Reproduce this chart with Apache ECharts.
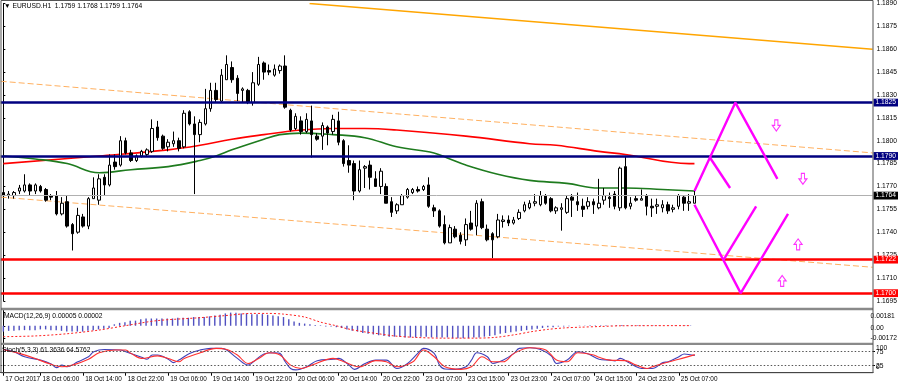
<!DOCTYPE html>
<html><head><meta charset="utf-8">
<script src="https://cdn.jsdelivr.net/npm/echarts@6.0.0/dist/echarts.min.js"></script>
<style>html,body{margin:0;padding:0;background:#fff}#c{width:900px;height:387px}</style>
</head><body><div id="c"></div>
<script>
// ---- price candles (EURUSD H1), bar 0 = 17 Oct 23:00 ----
const openP = [1.1766,1.1764,1.1764,1.1767,1.1767,1.1771,1.1767,1.1770,1.1768,1.1764,
1.1764,1.1752,1.1760,1.1745,1.1740,1.1750,1.1744,1.1762,1.1761,1.1776,
1.1771,1.1786,1.1784,1.1800,1.1792,1.1787,1.1790,1.1791,1.1793,1.1809,
1.1803,1.1796,1.1798,1.1800,1.1796,1.1819,1.1811,1.1804,1.1811,1.1821,
1.1833,1.1826,1.1840,1.1848,1.1841,1.1833,1.1833,1.1825,1.1837,1.1851,
1.1846,1.1843,1.1846,1.1849,1.1820,1.1808,1.1813,1.1806,1.1813,1.1803,
1.1803,1.1809,1.1806,1.1813,1.1800,1.1787,1.1785,1.1767,1.1782,1.1784,
1.1775,1.1770,1.1770,1.1760,1.1754,1.1758,1.1763,1.1766,1.1768,1.1768,
1.1771,1.1756,1.1754,1.1745,1.1733,1.1742,1.1738,1.1735,1.1746,1.1744,
1.1760,1.1742,1.1739,1.1737,1.1747,1.1748,1.1746,1.1749,1.1754,1.1756,
1.1759,1.1758,1.1764,1.1762,1.1754,1.1755,1.1753,1.1763,1.1760,1.1757,
1.1757,1.1760,1.1756,1.1761,1.1763,1.1765,1.1756,1.1783,1.1757,1.1762,
1.1761,1.1764,1.1757,1.1757,1.1756,1.1758,1.1755,1.1757,1.1763,1.1759,
1.1759];
const highP = [1.1767,1.1767,1.1767,1.1771,1.1778,1.1772,1.1772,1.1771,1.1769,1.1765,
1.1767,1.1763,1.1764,1.1746,1.1756,1.1752,1.1763,1.1776,1.1778,1.1778,
1.1791,1.1791,1.1803,1.1802,1.1794,1.1791,1.1794,1.1795,1.1814,1.1813,
1.1804,1.1801,1.1806,1.1802,1.1820,1.1820,1.1816,1.1814,1.1834,1.1838,
1.1838,1.1847,1.1856,1.1852,1.1843,1.1835,1.1834,1.1845,1.1855,1.1852,
1.1850,1.1850,1.1850,1.1856,1.1821,1.1818,1.1816,1.1818,1.1823,1.1805,
1.1812,1.1810,1.1817,1.1819,1.1801,1.1797,1.1787,1.1787,1.1784,1.1787,
1.1780,1.1782,1.1772,1.1763,1.1759,1.1765,1.1769,1.1769,1.1770,1.1771,
1.1776,1.1758,1.1755,1.1751,1.1745,1.1744,1.1740,1.1749,1.1754,1.1761,
1.1762,1.1745,1.1740,1.1752,1.1751,1.1751,1.1750,1.1755,1.1760,1.1761,
1.1765,1.1767,1.1765,1.1763,1.1757,1.1759,1.1764,1.1765,1.1766,1.1762,
1.1763,1.1762,1.1775,1.1769,1.1766,1.1767,1.1783,1.1790,1.1763,1.1764,
1.1768,1.1765,1.1762,1.1762,1.1761,1.1760,1.1758,1.1765,1.1764,1.1765,
1.1768];
const lowP = [1.1763,1.1762,1.1762,1.1765,1.1766,1.1764,1.1765,1.1766,1.1760,1.1761,
1.1751,1.1751,1.1743,1.1728,1.1739,1.1743,1.1742,1.1762,1.1758,1.1764,
1.1770,1.1781,1.1783,1.1791,1.1786,1.1786,1.1789,1.1790,1.1792,1.1800,
1.1794,1.1793,1.1796,1.1793,1.1795,1.1810,1.1765,1.1799,1.1810,1.1819,
1.1825,1.1825,1.1840,1.1838,1.1826,1.1825,1.1824,1.1823,1.1836,1.1840,
1.1843,1.1842,1.1844,1.1821,1.1806,1.1807,1.1804,1.1805,1.1789,1.1800,
1.1794,1.1797,1.1804,1.1797,1.1783,1.1779,1.1761,1.1766,1.1769,1.1768,
1.1770,1.1765,1.1759,1.1750,1.1752,1.1758,1.1762,1.1765,1.1766,1.1767,
1.1756,1.1750,1.1743,1.1732,1.1733,1.1736,1.1732,1.1731,1.1741,1.1738,
1.1742,1.1734,1.1723,1.1736,1.1743,1.1744,1.1745,1.1748,1.1753,1.1755,
1.1757,1.1757,1.1758,1.1753,1.1752,1.1741,1.1752,1.1750,1.1754,1.1750,
1.1755,1.1752,1.1755,1.1758,1.1756,1.1755,1.1754,1.1755,1.1755,1.1760,
1.1761,1.1751,1.1750,1.1752,1.1753,1.1752,1.1753,1.1755,1.1754,1.1754,
1.1759];
const closeP = [1.1764,1.1765,1.1766,1.1769,1.1771,1.1767,1.1771,1.1767,1.1761,1.1763,
1.1752,1.1759,1.1744,1.1739,1.1751,1.1744,1.1762,1.1769,1.1775,1.1771,
1.1784,1.1783,1.1800,1.1792,1.1787,1.1790,1.1793,1.1794,1.1808,1.1802,
1.1795,1.1799,1.1800,1.1795,1.1818,1.1811,1.1804,1.1812,1.1821,1.1833,
1.1827,1.1843,1.1850,1.1840,1.1831,1.1834,1.1825,1.1838,1.1850,1.1845,
1.1845,1.1847,1.1849,1.1822,1.1807,1.1816,1.1806,1.1814,1.1804,1.1801,
1.1810,1.1805,1.1814,1.1799,1.1785,1.1784,1.1767,1.1781,1.1783,1.1776,
1.1770,1.1780,1.1759,1.1753,1.1758,1.1764,1.1768,1.1768,1.1767,1.1770,
1.1757,1.1754,1.1744,1.1733,1.1743,1.1737,1.1734,1.1745,1.1742,1.1759,
1.1743,1.1735,1.1735,1.1748,1.1748,1.1746,1.1748,1.1753,1.1758,1.1759,
1.1760,1.1764,1.1759,1.1754,1.1756,1.1756,1.1762,1.1761,1.1758,1.1755,
1.1760,1.1758,1.1759,1.1764,1.1762,1.1757,1.1782,1.1756,1.1759,1.1761,
1.1762,1.1757,1.1756,1.1758,1.1758,1.1754,1.1756,1.1764,1.1759,1.1760,
1.1764];

// ---- time axis labels ----
const tickBars = [0,7,15,23,31,39,47,55,63,71,79,87,95,103,111,119,127];
const tickLabels = ['17 Oct 2017','18 Oct 06:00','18 Oct 14:00','18 Oct 22:00','19 Oct 06:00',
'19 Oct 14:00','19 Oct 22:00','20 Oct 06:00','20 Oct 14:00','20 Oct 22:00','23 Oct 07:00',
'23 Oct 15:00','23 Oct 23:00','24 Oct 07:00','24 Oct 15:00','24 Oct 23:00','25 Oct 07:00'];

// ---- moving averages (read at selected bars) ----
const maRedBars = [0,18,31,37,43,49,56,62,68,74,87,99,104,112,117,129,130];
const maRedVals = [1.1785,1.1790,1.1794,1.1797,1.1801,1.1804,1.1807,1.1808,1.1808,1.1807,1.1803,1.1798,1.1797,1.1793,1.1791,1.1785,1.1785];
const maGreenBars = [0,6,12,18,24,31,37,40,43,49,52,56,62,68,74,81,84,87,93,99,106,112,117,124,130];
const maGreenVals = [1.1790,1.1788,1.1785,1.1779,1.1781,1.1783,1.1787,1.1790,1.1794,1.1801,1.1804,1.1805,1.1804,1.1802,1.1796,1.1792,1.1788,1.1784,1.1778,1.1774,1.1772,1.1769,1.1769,1.1768,1.1767];

// ---- horizontal levels ----
const levelValues = [1.1825, 1.1790, 1.1722, 1.1700];
const bidPrice = 1.1764;

// ---- fibo channel lines (bar, price) ----
const fibSolidBars = [57.6, 163.5];   const fibSolidVals = [1.1890, 1.1860];
const fibUpperBars = [-0.5, 163.5];   const fibUpperVals = [1.1839, 1.1792];
const fibLowerBars = [-0.5, 163.5];   const fibLowerVals = [1.1763, 1.1717];

// ---- projected zigzags (bar, price) ----
const zigUpBars = [130, 137.7, 145.6];      const zigUpVals = [1.1767, 1.1825, 1.1775];
const zigUpBrBars = [132.9, 136.7];         const zigUpBrVals = [1.1789, 1.1769];
const zigDnBars = [130, 138.7, 147.6];      const zigDnVals = [1.1758, 1.1700, 1.1752];
const zigDnBrBars = [135.5, 141.6];         const zigDnBrVals = [1.1722, 1.1757];
const arrowDownBars = [145.4, 150.4];       const arrowDownVals = [1.1810, 1.1775];
const arrowUpBars = [149.5, 146.5];         const arrowUpVals = [1.1732, 1.1708];

// ---- MACD(12,26,9) ----
const macdHist = [-0.0008,-0.0007,-0.0007,-0.0006,-0.0006,-0.0006,-0.0006,-0.0005,-0.0005,-0.0006,
-0.0006,-0.0007,-0.0008,-0.0008,-0.0008,-0.0008,-0.0007,-0.0006,-0.0005,-0.0004,
-0.0003,0.0002,0.0004,0.0005,0.0007,0.0007,0.0009,0.0010,0.0010,0.0010,
0.0010,0.0010,0.0010,0.0011,0.0011,0.0011,0.0012,0.0012,0.0012,0.0013,
0.0014,0.0015,0.0017,0.00181,0.0018,0.0017,0.0017,0.0016,0.0016,0.0016,
0.0015,0.0014,0.0013,0.0012,0.0009,0.0006,0.0004,0.0003,0.0002,0.0001,
0.00007,-0.0001,-0.0001,-0.0002,-0.0003,-0.0005,-0.0007,-0.0008,-0.0010,-0.0011,
-0.0012,-0.0013,-0.0014,-0.0015,-0.0015,-0.0015,-0.0016,-0.0016,-0.0016,-0.0015,
-0.0015,-0.0016,-0.0016,-0.0016,-0.0016,-0.00172,-0.0017,-0.0017,-0.0017,-0.0016,
-0.0016,-0.0015,-0.0014,-0.0013,-0.0011,-0.0010,-0.0009,-0.0008,-0.0007,-0.0006,
-0.0005,-0.0004,-0.0003,-0.0002,-0.0002,-0.0001,-0.0001,-0.00005,0.00002,0.00004,
0.00005,0.00006,0.00006,0.00007,0.00006,0.00005,0.00008,0.00009,0.00008,0.00007,
0.00007,0.00006,0.00005,0.00004,0.00003,0.00002,0.00001,0.00002,0.00003,0.00004,
0.00005];
const macdSigBars = [0,6,12,18,23,29,37,42,47,50,53,57,60,63,65,68,71,74,78,83,89,93,97,100,103,106,109,113,117,130];
const macdSigVals = [-0.0015,-0.0014,-0.0011,-0.0006,0.0000,0.0007,0.0011,0.0014,0.0017,0.0017,0.0016,0.0012,0.0005,0.0000,-0.0004,-0.0008,-0.0011,-0.0014,-0.0016,-0.0017,-0.0017,-0.0016,-0.0012,-0.0008,-0.0005,-0.0003,-0.0002,-0.0001,0.0000,0.00002];
const macdLabelVals = [0.00181, 0, -0.00172];

// ---- Stochastic(5,3,3) ----
const stMainBars = [0,2,4,7,9,10,11,12,14,16,17,19,22,23,26,27,28,29,31,32,33,35,37,39,41,42,44,46,47,49,51,52,53,54,55,57,59,62,63,65,66,68,70,72,74,76,78,79,81,82,83,85,87,88,89,91,92,94,96,97,99,101,103,104,106,108,110,112,114,115,116,117,119,120,122,124,125,127,128,130];
const stMainVals = [83,75,57,45,31,18,27,21,39,57,75,83,81,75,55,48,63,63,48,36,45,69,81,87,87,81,51,27,39,67,71,69,39,15,10,21,43,48,51,27,12,33,45,45,15,33,71,87,69,27,13,12,21,45,71,57,33,45,69,87,89,83,60,33,45,75,67,48,45,42,51,43,21,15,15,36,39,57,67,61.36];
const stSigBars = [0,3,6,8,11,13,16,18,21,23,24,26,29,31,33,34,37,40,42,44,46,48,50,52,54,56,58,62,64,67,70,72,74,77,79,81,83,86,88,90,92,94,96,99,102,104,106,108,111,112,114,117,119,121,122,124,127,130];
const stSigVals = [83,69,51,36,21,27,48,71,81,81,69,51,60,51,39,51,71,87,83,63,33,51,71,63,27,15,27,51,39,21,43,39,21,39,81,57,21,12,21,57,39,39,69,89,81,45,39,71,63,55,45,43,27,15,21,33,48,64.58];
const stLevels = [75, 25];
const stEdgeLabelVals = [100, 0];

// ================= build =================
const SLOTS = 164;
const categories = Array.from({length: SLOTS}, (_, i) => {
  const k = tickBars.indexOf(i); return k >= 0 ? tickLabels[k] : '';
});
const pairs = (xs, ys) => xs.map((x, i) => [x, ys[i]]);
const FONT = 'Liberation Sans';
const FS = 6.7;
const txt = {fontFamily: FONT, color: '#000'};
const L = 0.7, R = 27;

const chart = echarts.init(document.getElementById('c'), null, {renderer: 'canvas'});

const levelColors = ['#000080', '#000080', '#ff0000', '#ff0000'];
const boxLabel = (bg) => ({show: true, position: 'end', distance: 1, formatter: p => Number(p.value).toFixed(4),
  color: '#fff', backgroundColor: bg, padding: [1, 2, 0, 2], fontSize: FS, lineHeight: 6.8, fontFamily: FONT});

const markLevels = levelValues.map((v, i) => ({yAxis: v,
  lineStyle: {color: levelColors[i], width: 2.6, type: 'solid'}, label: boxLabel(levelColors[i])}));
markLevels.unshift({yAxis: bidPrice, lineStyle: {color: '#b0b0b0', width: 1, type: 'solid'}, label: boxLabel('#000')});

const valX = (grid) => ({type: 'value', gridIndex: grid, min: -0.5, max: SLOTS - 0.5, show: false});
const catX = (grid, showLab) => ({type: 'category', gridIndex: grid, data: categories, boundaryGap: true,
  show: showLab, axisLine: {show: showLab, lineStyle: {color: '#000', width: 1}},
  axisTick: {show: showLab, alignWithLabel: true, length: 3, interval: (idx, v) => v !== '', lineStyle: {color: '#000'}},
  axisLabel: {show: showLab, interval: (idx, v) => v !== '', align: 'left', margin: 4, fontSize: 6.4, padding: [0, 0, 0, 2], hideOverlap: false, ...txt},
  splitLine: {show: false}});

const lineS = (xi, yi, xs, ys, color, width, type, extra) => Object.assign({
  type: 'line', xAxisIndex: xi, yAxisIndex: yi, data: pairs(xs, ys), symbol: 'none', silent: true,
  lineStyle: {color, width, type}, z: 3}, extra || {});

const option = {
  animation: false,
  backgroundColor: '#fff',
  title: [
    {text: '▼ EURUSD.H1  1.1759 1.1768 1.1759 1.1764', left: 4, top: 3, padding: 0,
      textStyle: {fontSize: FS, fontWeight: 'normal', ...txt}},
    {text: 'MACD(12,26,9) 0.00005 0.00002', left: 4, top: 313, padding: 0,
      textStyle: {fontSize: FS, fontWeight: 'normal', ...txt}},
    {text: 'Stoch(5,3,3) 61.3636 64.5762', left: 2, top: 346.5, padding: 0,
      textStyle: {fontSize: FS, fontWeight: 'normal', ...txt}}
  ],
  grid: [
    {left: L, right: R, top: 1.2, height: 299.6, containLabel: false},
    {left: L, right: R, top: 310.5, height: 32, containLabel: false},
    {left: L, right: R, top: 344.7, height: 28, containLabel: false}
  ],
  xAxis: [catX(0, false), catX(1, false), catX(2, true), valX(0), valX(1), valX(2)],
  yAxis: [
    {type: 'value', gridIndex: 0, position: 'right', min: 1.1695, max: 1.1890, interval: 0.0015, scale: true,
      axisLine: {show: true, lineStyle: {color: '#000'}}, axisTick: {show: true, length: 2, lineStyle: {color: '#000'}},
      axisLabel: {fontSize: FS, margin: 4, hideOverlap: false, formatter: v => v.toFixed(4), ...txt}, splitLine: {show: false}},
    {type: 'value', gridIndex: 1, position: 'right', min: -0.0023, max: 0.0021,
      axisLine: {show: true, lineStyle: {color: '#000'}},
      axisTick: {show: true, length: 2, customValues: macdLabelVals, lineStyle: {color: '#000'}},
      axisLabel: {fontSize: FS, margin: 3, hideOverlap: false, customValues: macdLabelVals, ...txt,
        formatter: v => v === 0 ? '{m|0.00}' : (v > 0 ? '{t|' + v.toFixed(5) + '}' : '{b|' + v.toFixed(5) + '}'),
        rich: {t: {padding: [7, 0, 0, 0], fontSize: FS, fontFamily: FONT}, m: {padding: [4, 0, 0, 0], fontSize: FS, fontFamily: FONT},
               b: {fontSize: FS, fontFamily: FONT}}},
      splitLine: {show: false}},
    {type: 'value', gridIndex: 2, position: 'right', min: 0, max: 100,
      axisLine: {show: true, lineStyle: {color: '#000'}},
      axisTick: {show: true, length: 2, customValues: stEdgeLabelVals, lineStyle: {color: '#000'}},
      axisLabel: {fontSize: FS, margin: 3, hideOverlap: false, showMinLabel: true, showMaxLabel: true, customValues: stEdgeLabelVals, ...txt,
        formatter: v => v === 100 ? '{t|100}' : '{b|0}',
        rich: {t: {padding: [6, 0, 0, 0], fontSize: FS, fontFamily: FONT}, b: {padding: [0, 0, 11, 0], fontSize: FS, fontFamily: FONT}}},
      splitLine: {show: false}},
    {type: 'value', gridIndex: 2, position: 'right', min: 0, max: 100,
      axisLine: {show: false},
      axisTick: {show: true, length: 2, customValues: stLevels, lineStyle: {color: '#000'}},
      axisLabel: {fontSize: FS, margin: 3, hideOverlap: false, customValues: stLevels, ...txt},
      splitLine: {show: false}}
  ],
  series: [
    lineS(3, 0, fibSolidBars, fibSolidVals, '#ffa500', 1.3, 'solid'),
    lineS(3, 0, fibUpperBars, fibUpperVals, '#ffb060', 1, [6, 3], {
      data: pairs(fibUpperBars, fibUpperVals).map((p, i) => i === 0 ? {value: p, label: {show: true, formatter: '76.4',
        position: 'top', align: 'left', offset: [3, -1], color: '#ffa040', fontSize: 6.3, fontFamily: FONT}} : p)}),
    lineS(3, 0, fibLowerBars, fibLowerVals, '#ffb060', 1, [6, 3], {
      data: pairs(fibLowerBars, fibLowerVals).map((p, i) => i === 0 ? {value: p, label: {show: true, formatter: '61.8',
        position: 'top', align: 'left', offset: [3, -1], color: '#ffa040', fontSize: 6.3, fontFamily: FONT}} : p)}),
    lineS(3, 0, maRedBars, maRedVals, '#ff0000', 1.6, 'solid', {smooth: 0.4}),
    lineS(3, 0, maGreenBars, maGreenVals, '#1e7b1e', 1.6, 'solid', {smooth: 0.4}),
    {
      type: 'candlestick', xAxisIndex: 0, yAxisIndex: 0, barWidth: 3, z: 4,
      data: openP.map((o, i) => [o, closeP[i], lowP[i], highP[i]]),
      itemStyle: {color: '#ffffff', color0: '#000000', borderColor: '#000000', borderColor0: '#000000', borderWidth: 1},
      markLine: {silent: true, symbol: ['none', 'none'], precision: 4, animation: false, z: 5, data: markLevels}
    },
    lineS(3, 0, zigUpBars, zigUpVals, '#ff00ff', 2.4, 'solid', {z: 6}),
    lineS(3, 0, zigUpBrBars, zigUpBrVals, '#ff00ff', 2.4, 'solid', {z: 6}),
    lineS(3, 0, zigDnBars, zigDnVals, '#ff00ff', 2.4, 'solid', {z: 6}),
    lineS(3, 0, zigDnBrBars, zigDnBrVals, '#ff00ff', 2.4, 'solid', {z: 6}),
    {type: 'scatter', xAxisIndex: 3, yAxisIndex: 0, silent: true, z: 6,
      data: pairs(arrowDownBars, arrowDownVals),
      symbol: 'path://M3,0 L7,0 L7,6 L10,6 L5,12 L0,6 L3,6 Z', symbolSize: [8, 11],
      itemStyle: {color: 'rgba(255,255,255,0)', borderColor: '#ff00ff', borderWidth: 1.1}},
    {type: 'scatter', xAxisIndex: 3, yAxisIndex: 0, silent: true, z: 6,
      data: pairs(arrowUpBars, arrowUpVals),
      symbol: 'path://M5,0 L10,6 L7,6 L7,12 L3,12 L3,6 L0,6 Z', symbolSize: [8, 11],
      itemStyle: {color: 'rgba(255,255,255,0)', borderColor: '#ff00ff', borderWidth: 1.1}},
    // MACD
    {type: 'bar', xAxisIndex: 1, yAxisIndex: 1, data: macdHist, barWidth: 1.4, silent: true,
      itemStyle: {color: '#5050c0'}},
    lineS(4, 1, macdSigBars, macdSigVals, '#ff2020', 1, [2, 2], {smooth: 0.3}),
    // Stochastic
    lineS(5, 2, stMainBars, stMainVals, '#4040b8', 1.1, 'solid', {smooth: 0.35,
      markLine: {silent: true, symbol: ['none', 'none'], label: {show: false},
        lineStyle: {color: '#555', width: 1, type: [1.5, 2]}, data: stLevels.map(v => ({yAxis: v}))}}),
    lineS(5, 2, stSigBars, stSigVals, '#ff3030', 1.1, 'solid', {smooth: 0.35})
  ],
  graphic: [
    {type: 'rect', silent: true, z: 100, shape: {x: 1, y: 307.7, width: 872, height: 2.6}, style: {fill: '#8a8a8a'}},
    {type: 'rect', silent: true, z: 100, shape: {x: 1, y: 342.7, width: 872, height: 2.4}, style: {fill: '#8a8a8a'}},
    {type: 'rect', silent: true, z: 100, shape: {x: 1, y: 0.5, width: 872, height: 372.2}, style: {fill: 'none', stroke: '#555', lineWidth: 1}}
  ]
};
chart.setOption(option);
</script>
</body></html>
